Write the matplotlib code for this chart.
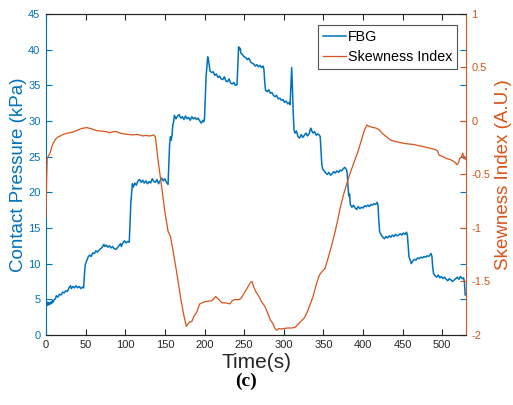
"""Contact pressure (FBG) and skewness index over time, two y axes."""
import matplotlib
matplotlib.use("Agg")
import matplotlib.pyplot as plt

BLUE = "#0072BD"
ORANGE = "#D95319"

fbg_time = [
    0, 1, 2, 3, 4, 5, 6, 7, 8, 9, 10, 12, 13, 15, 17, 19, 21, 23, 25, 27, 29, 31, 32, 34, 36, 38, 40, 42, 44, 46, 47.5,
    48.5, 49.5, 51, 53, 55, 57, 59, 61, 63, 65, 67, 69, 71, 73, 74, 76, 78, 80, 82, 84, 86, 88, 90, 92, 94, 95, 97,
    99, 101, 103, 105,
    106, 107, 108, 109, 110, 112, 114, 116, 118, 120, 122, 124, 126, 128, 130, 132, 134, 136, 138, 140, 142, 144,
    146, 148, 150, 152, 154,
    155, 156, 157, 158, 159, 160, 161, 162, 164, 166, 168, 170, 172, 174, 176, 178, 180, 182, 184, 186, 188, 190,
    192, 194, 196, 198, 199, 200,
    201, 202, 203, 204, 205, 206, 207, 209, 211, 213, 215, 217, 219, 221, 223, 225, 227, 229, 231, 233, 235, 237,
    239, 241,
    242, 243, 244, 245, 246, 248, 250, 252, 254, 256, 258, 260, 262, 264, 266, 268, 270, 272, 274, 275,
    276, 277, 279, 281, 283, 285, 287, 289, 291, 293, 295, 297, 299, 301, 303, 305, 307, 308,
    309, 310, 311, 312, 313, 314, 316, 318, 320, 322, 324, 326, 328, 330, 332, 334, 335, 337, 339, 341, 343, 345, 346,
    347, 348, 349, 351, 353, 355, 357, 359, 361, 363, 365, 367, 369, 371, 373, 375, 377, 379, 380,
    381, 382, 383, 384, 386, 388, 390, 392, 394, 396, 398, 400, 402, 404, 406, 408, 410, 412, 414, 416, 418, 419,
    420, 421, 423, 425, 427, 429, 431, 433, 435, 437, 439, 441, 443, 445, 447, 449, 451, 453, 455, 456,
    457, 458, 460, 461, 463, 465, 467, 469, 471, 473, 475, 477, 479, 481, 483, 485, 486, 487,
    488, 489, 491, 493, 495, 497, 499, 501, 503, 505, 507, 509, 511, 513, 515, 517, 519, 521, 523, 525, 527, 528, 529,
]
fbg_kpa = [
    4.4, 4.1, 4.6, 4.2, 4.5, 4.3, 4.6, 4.4, 4.8, 4.6, 4.9, 5.1, 5.5, 5.3, 5.7, 5.6, 6.0, 5.9, 6.2, 6.1, 6.6, 6.9,
    6.5, 6.8, 6.6, 6.9, 6.6, 6.8, 6.5, 6.7, 6.6,
    8.5, 9.8, 10.3, 10.9, 11.2, 11.0, 11.5, 11.4, 11.8, 11.6, 11.9, 12.1, 12.3, 12.7, 12.4, 12.6, 12.3, 12.5, 12.2,
    12.4, 12.1, 12.0, 12.2, 12.5, 12.8, 12.4, 12.9, 13.2, 12.9, 13.1, 13.0,
    15.5, 18.5, 19.8, 21.2, 20.7, 21.3, 21.0, 21.6, 21.8, 21.4, 21.7, 21.3, 21.6, 21.2, 21.5, 21.3, 21.9, 21.5,
    21.4, 21.8, 21.2, 21.6, 22.0, 21.6, 21.9, 21.4, 21.1,
    24.0, 26.8, 27.8, 27.3, 28.0, 29.5, 29.8, 30.8, 30.3, 30.7, 30.9, 30.4, 30.6, 30.2, 30.7, 30.3, 30.5, 30.1,
    30.6, 30.3, 30.5, 30.2, 30.4, 30.0, 29.7, 30.1, 29.9, 30.3,
    33.5, 36.3, 37.5, 39.0, 38.6, 37.8, 37.0, 36.8, 36.9, 36.4, 36.6, 36.1, 36.3, 35.9, 35.8, 36.2, 35.6, 35.5,
    35.9, 35.3, 35.2, 35.4, 35.0, 35.1,
    37.5, 40.4, 40.0, 40.2, 39.5, 39.3, 39.0, 38.9, 38.6, 38.8, 38.3, 38.1, 38.0, 37.7, 37.9, 37.6, 37.8, 37.5,
    37.7, 37.2,
    35.5, 34.3, 34.1, 34.4, 33.9, 34.0, 33.6, 33.4, 33.6, 33.1, 33.2, 32.9, 33.0, 32.6, 32.8, 32.4, 32.6, 32.3,
    35.0, 37.5, 34.5, 31.0, 28.8, 28.3, 28.6, 27.8, 27.6, 28.1, 27.7, 28.0, 28.3, 27.9, 28.2, 29.0, 28.7, 28.3,
    28.5, 28.0, 28.2, 28.0, 27.8,
    26.0, 24.0, 23.3, 23.0, 22.7, 22.5, 22.8, 22.4, 22.6, 22.9, 22.7, 23.0, 22.8, 23.1, 23.0, 23.3, 23.5, 23.2, 22.8,
    21.0, 19.5, 19.8, 18.3, 17.9, 18.2, 17.8, 17.6, 18.0, 17.7, 17.9, 17.8, 18.1, 18.0, 18.2, 18.0, 18.3, 18.2,
    18.4, 18.3, 18.6, 18.1,
    16.0, 14.5, 14.0, 13.7, 13.5, 13.8, 13.6, 13.9, 13.7, 14.0, 13.8, 14.1, 13.9, 14.0, 14.2, 14.0, 14.3, 14.1,
    14.4, 14.0,
    12.5, 11.0, 10.3, 10.0, 10.4, 10.6, 10.5, 10.8, 10.7, 10.9, 10.8, 11.0, 10.9, 11.1, 11.0, 11.3, 11.4, 11.0,
    9.5, 8.6, 8.3, 8.1, 8.4, 8.0, 8.2, 7.9, 8.1, 7.8, 7.6, 7.9, 7.7, 7.5, 7.7, 7.9, 8.1, 7.8, 8.2, 7.9, 8.0, 7.4, 5.6,
]

skew_time = [
    0, 0.8, 1.5, 3, 5, 7, 9, 12, 15, 18, 22, 26, 30, 35, 40, 45, 51, 56, 60, 64, 68, 72, 76, 80, 85, 89, 94, 98,
    102, 106, 110, 114, 118, 122, 126, 130, 133, 136, 138,
    142, 146, 150, 154, 157, 160, 165, 170, 174, 177, 179, 181, 184, 187, 190, 194, 197, 200, 204, 209, 212, 214,
    218, 222, 227, 232, 235, 238, 243, 246, 250, 254, 258, 260, 262, 265, 268, 272, 276, 280, 283, 286, 289, 291,
    294, 297, 300, 305, 310, 314, 318, 322, 326, 330, 334, 337, 341, 345, 348, 352, 356, 360, 364, 368, 371, 375,
    379, 383, 388, 393, 398, 402, 405, 408, 412, 416, 420, 425, 430, 435, 440, 446, 452, 458, 464, 470, 476, 482,
    488, 492, 494, 496, 500, 505, 510, 515, 519, 521, 522, 524, 526, 527, 528, 529,
]
skew_index = [
    -0.90, -0.55, -0.35, -0.33, -0.30, -0.25, -0.21, -0.17, -0.15, -0.14, -0.125, -0.115, -0.11, -0.10, -0.085,
    -0.07, -0.062, -0.07, -0.08, -0.09, -0.093, -0.095, -0.10, -0.11, -0.10, -0.10, -0.115, -0.12, -0.125, -0.128,
    -0.13, -0.125, -0.13, -0.14, -0.135, -0.14, -0.137, -0.13, -0.15,
    -0.40, -0.62, -0.85, -1.03, -1.08, -1.20, -1.42, -1.66, -1.82, -1.92, -1.90, -1.88, -1.875, -1.82, -1.79,
    -1.71, -1.70, -1.69, -1.685, -1.68, -1.66, -1.64, -1.67, -1.70, -1.70, -1.71, -1.68, -1.67, -1.67, -1.66,
    -1.61, -1.56, -1.51, -1.50, -1.55, -1.60, -1.63, -1.69, -1.73, -1.80, -1.86, -1.89, -1.94, -1.955, -1.94,
    -1.945, -1.94, -1.935, -1.935, -1.93, -1.90, -1.87, -1.84, -1.78, -1.70, -1.64, -1.53, -1.44, -1.41, -1.38,
    -1.28, -1.175, -1.06, -0.93, -0.82, -0.70, -0.60, -0.505, -0.40, -0.30, -0.18, -0.08, -0.038, -0.05, -0.06,
    -0.065, -0.08, -0.12, -0.15, -0.18, -0.19, -0.20, -0.21, -0.215, -0.22, -0.23, -0.24, -0.25, -0.26, -0.27,
    -0.28, -0.32, -0.33, -0.35, -0.36, -0.38, -0.41, -0.38, -0.35, -0.34, -0.30, -0.35, -0.33, -0.36,
]

x_ticks = [0, 50, 100, 150, 200, 250, 300, 350, 400, 450, 500]
left_ticks = [0, 5, 10, 15, 20, 25, 30, 35, 40, 45]
right_ticks = [-2, -1.5, -1, -0.5, 0, 0.5, 1]
right_labels = ["-2", "-1.5", "-1", "-0.5", "0", "0.5", "1"]

plt.rcParams["font.family"] = ["Liberation Sans", "DejaVu Sans"]

fig = plt.figure(figsize=(5.13, 4.05), dpi=100)
ax1 = fig.add_axes([0.0897, 0.173, 0.8187, 0.7924])
ax2 = ax1.twinx()

l1, = ax1.plot(fbg_time, fbg_kpa, color=BLUE, lw=1.1, label="FBG")
l2, = ax2.plot(skew_time, skew_index, color=ORANGE, lw=0.9, label="Skewness Index")

ax1.set_xlim(0, 530)
ax1.set_ylim(0, 45)
ax2.set_ylim(-2, 1)
ax1.set_xticks(x_ticks)
ax1.set_yticks(left_ticks)
ax2.set_yticks(right_ticks)
ax2.set_yticklabels(right_labels)

ax1.tick_params(axis="x", direction="in", top=True, length=4, labelsize=8, colors="#262626", pad=4)
ax1.tick_params(axis="y", direction="in", right=True, length=4, labelsize=8, colors=BLUE, pad=4)
ax2.tick_params(axis="y", direction="in", length=4, labelsize=8, colors=ORANGE, pad=4)

for sp in ["top", "bottom"]:
    ax1.spines[sp].set_color("#262626")
ax2.spines["left"].set_visible(False)
ax2.spines["top"].set_color("#262626")
ax2.spines["bottom"].set_color("#262626")
ax1.spines["left"].set_color(BLUE)
ax2.spines["right"].set_color(ORANGE)
ax1.spines["right"].set_visible(False)

ax1.set_ylabel("Contact Pressure (kPa)", color=BLUE, fontsize=13.5, labelpad=1)
ax2.set_ylabel("Skewness Index (A.U.)", color=ORANGE, fontsize=13.5, labelpad=3)
ax1.set_xlabel("Time(s)", color="#262626", fontsize=15, labelpad=2)

leg = ax2.legend(handles=[l1, l2], loc="upper right", bbox_to_anchor=(0.979, 0.966), fontsize=10.3,
                 frameon=True, fancybox=False, handlelength=1.6, handletextpad=0.15, borderpad=0.35,
                 labelspacing=0.45, borderaxespad=0)
leg.get_frame().set_edgecolor("#262626")
leg.get_frame().set_linewidth(0.8)

fig.text(0.4795, 0.058, "(c)", fontsize=14, fontweight="bold", ha="center", va="center",
         family=["Liberation Serif", "DejaVu Serif"])

fig.savefig("out.png", dpi=100)
